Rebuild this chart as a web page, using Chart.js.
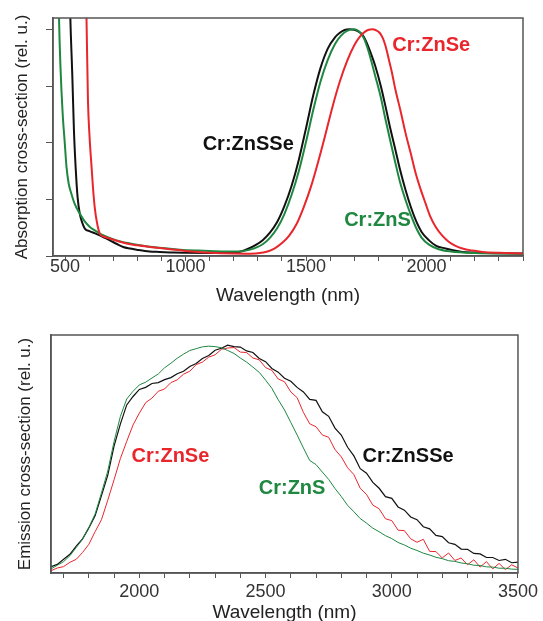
<!DOCTYPE html>
<html>
<head>
<meta charset="utf-8">
<script src="https://cdn.jsdelivr.net/npm/chart.js@4.4.1/dist/chart.umd.min.js"></script>
<style>
  html, body { margin: 0; padding: 0; background: #fff; overflow: hidden; }
  .panel { position: absolute; left: 0; width: 543px; height: 310px; }
  #topPanel { top: 0; }
  #bottomPanel { top: 320px; }
</style>
</head>
<body>
<div class="panel" id="topPanel"><canvas id="absCanvas"></canvas></div>
<div class="panel" id="bottomPanel"><canvas id="emCanvas"></canvas></div>
<script>
// Absorption spectra (top panel), wavelength in nm, values normalised to the peak
const absBlackWl = [515, 522, 530, 537, 544, 552, 561, 572, 582, 603, 625, 644, 665, 686, 715, 741, 770, 797, 850, 893, 950, 1000, 1100, 1200, 1230, 1260, 1290, 1320, 1350, 1380, 1410, 1440, 1470, 1500, 1530, 1560, 1590, 1620, 1640, 1660, 1680, 1700, 1718, 1735, 1750, 1765, 1788, 1810, 1830, 1850, 1871, 1890, 1913, 1935, 1955, 1980, 2010, 2040, 2079, 2110, 2149, 2200, 2300, 2400];
const absBlackVal = [1.4, 1.05, 0.80, 0.55, 0.39, 0.26, 0.187, 0.145, 0.121, 0.109, 0.100, 0.091, 0.080, 0.069, 0.053, 0.040, 0.033, 0.028, 0.020, 0.018, 0.015, 0.014, 0.013, 0.015, 0.020, 0.032, 0.048, 0.07, 0.103, 0.15, 0.22, 0.31, 0.425, 0.565, 0.71, 0.83, 0.915, 0.965, 0.985, 0.997, 1.0, 0.998, 0.99, 0.975, 0.945, 0.905, 0.835, 0.75, 0.658, 0.56, 0.467, 0.38, 0.29, 0.215, 0.158, 0.105, 0.069, 0.045, 0.033, 0.025, 0.018, 0.015, 0.012, 0.011];

const absRedWl = [583, 589, 595, 602, 610, 616, 623, 632, 644, 660, 686, 720, 755, 800, 852, 920, 981, 1050, 1150, 1250, 1300, 1340, 1370, 1400, 1430, 1460, 1490, 1520, 1550, 1580, 1610, 1640, 1670, 1700, 1725, 1745, 1760, 1775, 1790, 1805, 1818, 1830, 1844, 1858, 1871, 1892, 1913, 1935, 1955, 1975, 1996, 2015, 2038, 2065, 2093, 2120, 2149, 2190, 2232, 2300, 2400];
const absRedVal = [1.4, 1.05, 0.688, 0.52, 0.393, 0.30, 0.216, 0.15, 0.099, 0.086, 0.077, 0.065, 0.055, 0.047, 0.040, 0.032, 0.025, 0.018, 0.012, 0.010, 0.012, 0.02, 0.034, 0.057, 0.09, 0.14, 0.215, 0.305, 0.415, 0.535, 0.66, 0.77, 0.86, 0.93, 0.97, 0.99, 0.998, 1.0, 0.996, 0.985, 0.962, 0.925, 0.864, 0.80, 0.732, 0.64, 0.541, 0.45, 0.364, 0.295, 0.231, 0.175, 0.128, 0.09, 0.062, 0.045, 0.033, 0.024, 0.018, 0.014, 0.011];

const absGreenWl = [470, 475, 481, 490, 499, 506, 515, 526, 540, 561, 580, 603, 625, 644, 680, 714, 760, 810, 880, 977, 1050, 1150, 1220, 1260, 1290, 1320, 1350, 1380, 1410, 1440, 1470, 1500, 1530, 1560, 1590, 1620, 1645, 1670, 1700, 1720, 1740, 1760, 1788, 1810, 1830, 1850, 1871, 1890, 1913, 1935, 1955, 1980, 2010, 2050, 2100, 2200, 2400];
const absGreenVal = [1.4, 1.05, 0.835, 0.63, 0.496, 0.393, 0.32, 0.276, 0.23, 0.187, 0.155, 0.128, 0.112, 0.099, 0.082, 0.069, 0.057, 0.047, 0.037, 0.028, 0.024, 0.020, 0.020, 0.026, 0.036, 0.052, 0.08, 0.122, 0.185, 0.27, 0.375, 0.505, 0.645, 0.77, 0.865, 0.935, 0.972, 0.993, 1.0, 0.99, 0.96, 0.90, 0.79, 0.70, 0.60, 0.505, 0.408, 0.325, 0.246, 0.18, 0.128, 0.08, 0.05, 0.03, 0.02, 0.013, 0.01];

// Emission spectra (bottom panel)
const emWl = [1650, 1675, 1700, 1725, 1750, 1775, 1800, 1825, 1850, 1875,
  1900, 1925, 1950, 1975, 2000, 2025, 2050, 2075, 2100, 2125,
  2150, 2175, 2200, 2225, 2250, 2275, 2300, 2325, 2350, 2375,
  2400, 2425, 2450, 2475, 2500, 2525, 2550, 2575, 2600, 2625,
  2650, 2675, 2700, 2725, 2750, 2775, 2800, 2825, 2850, 2875,
  2900, 2925, 2950, 2975, 3000, 3025, 3050, 3075, 3100, 3125,
  3150, 3175, 3200, 3225, 3250, 3275, 3300, 3325, 3350, 3375,
  3400, 3425, 3450, 3475, 3500];
const emBlack = [0.028, 0.038, 0.060, 0.082, 0.118, 0.150, 0.198, 0.252, 0.340, 0.430,
  0.558, 0.655, 0.738, 0.775, 0.806, 0.815, 0.832, 0.836, 0.849, 0.858,
  0.875, 0.886, 0.907, 0.920, 0.942, 0.955, 0.978, 0.987, 1.0, 0.994,
  0.992, 0.975, 0.968, 0.942, 0.928, 0.898, 0.882, 0.855, 0.842, 0.815,
  0.795, 0.762, 0.758, 0.708, 0.688, 0.636, 0.606, 0.552, 0.514, 0.458,
  0.438, 0.398, 0.372, 0.335, 0.328, 0.290, 0.276, 0.246, 0.234, 0.203,
  0.194, 0.165, 0.160, 0.133, 0.126, 0.105, 0.104, 0.086, 0.084, 0.068,
  0.068, 0.055, 0.060, 0.045, 0.048];
const emRed = [0.010, 0.022, 0.028, 0.047, 0.060, 0.090, 0.126, 0.182, 0.234, 0.320,
  0.410, 0.503, 0.578, 0.650, 0.702, 0.748, 0.768, 0.798, 0.808, 0.836,
  0.848, 0.873, 0.886, 0.915, 0.926, 0.948, 0.958, 0.982, 0.988, 0.990,
  0.970, 0.968, 0.944, 0.936, 0.902, 0.890, 0.852, 0.840, 0.795, 0.770,
  0.705, 0.655, 0.642, 0.606, 0.596, 0.542, 0.510, 0.462, 0.432, 0.372,
  0.345, 0.298, 0.282, 0.238, 0.230, 0.188, 0.186, 0.150, 0.135, 0.148,
  0.095, 0.094, 0.066, 0.088, 0.055, 0.066, 0.036, 0.058, 0.026, 0.050,
  0.018, 0.042, 0.015, 0.036, 0.022];
const emGreen = [0.018, 0.034, 0.050, 0.076, 0.112, 0.148, 0.200, 0.260, 0.352, 0.448,
  0.578, 0.688, 0.764, 0.798, 0.826, 0.838, 0.856, 0.874, 0.901, 0.921,
  0.943, 0.961, 0.977, 0.985, 0.993, 0.996, 0.994, 0.989, 0.977, 0.964,
  0.944, 0.926, 0.904, 0.881, 0.847, 0.811, 0.761, 0.716, 0.661, 0.606,
  0.549, 0.494, 0.476, 0.443, 0.411, 0.371, 0.336, 0.297, 0.269, 0.239,
  0.219, 0.197, 0.181, 0.164, 0.151, 0.134, 0.123, 0.109, 0.099, 0.087,
  0.079, 0.069, 0.063, 0.054, 0.051, 0.044, 0.041, 0.034, 0.033, 0.027,
  0.026, 0.021, 0.021, 0.017, 0.016];

const BLACK = '#111111';
const RED = '#e8262c';
const GREEN = '#1e8740';
const AXIS = '#555555';
const FONT = '"Liberation Sans", Arial, Helvetica, sans-serif';

const pts = (xs, ys) => xs.map((x, i) => ({ x: x, y: ys[i] }));

// closed grey box around the plot area
const framePlugin = {
    id: 'frame',
    afterDraw(chart) {
        const a = chart.chartArea, ctx = chart.ctx;
        ctx.save();
        ctx.strokeStyle = AXIS;
        ctx.lineWidth = 1.5;
        ctx.strokeRect(a.left, a.top, a.right - a.left, a.bottom - a.top);
        ctx.restore();
    }
};

// sample names written next to the curves, placed in data units
const curveLabels = {
    id: 'curveLabels',
    afterDatasetsDraw(chart, args, opts) {
        const ctx = chart.ctx, xs = chart.scales.x, ys = chart.scales.y;
        ctx.save();
        ctx.font = 'bold 20px ' + FONT;
        ctx.textAlign = 'left';
        ctx.textBaseline = 'middle';
        (opts.items || []).forEach(it => {
            ctx.fillStyle = it.color;
            ctx.fillText(it.text, xs.getPixelForValue(it.x), ys.getPixelForValue(it.y));
        });
        ctx.restore();
    }
};

function lineSet(label, data, color, width, smooth) {
    return {
        label: label,
        data: data,
        borderColor: color,
        borderWidth: width,
        pointRadius: 0,
        fill: false,
        tension: smooth ? 0.4 : 0,
        cubicInterpolationMode: smooth ? 'monotone' : 'default'
    };
}

function xAxis(min, max, fitHeight, labelPad, titlePad) {
    return {
        type: 'linear',
        min: min,
        max: max,
        afterFit: s => { s.height = fitHeight; },
        border: { display: true, color: AXIS, width: 1.5 },
        grid: { drawOnChartArea: false, drawTicks: true, tickLength: 5, color: AXIS },
        ticks: {
            stepSize: 100,
            includeBounds: false,
            autoSkip: false,
            maxRotation: 0,
            padding: labelPad,
            color: '#333',
            font: { family: FONT, size: 18, lineHeight: 1 },
            callback: v => (v % 500 === 0 ? v : '')
        },
        title: {
            display: true,
            text: 'Wavelength (nm)',
            color: '#222',
            font: { family: FONT, size: 19 },
            padding: { top: 0, bottom: titlePad }
        }
    };
}

function initCharts() {
    // 1. Absorption cross-section
    new Chart(document.getElementById('absCanvas').getContext('2d'), {
        type: 'line',
        data: {
            datasets: [
                lineSet('Cr:ZnSe', pts(absRedWl, absRedVal), RED, 2, true),
                lineSet('Cr:ZnS', pts(absGreenWl, absGreenVal), GREEN, 2, true),
                lineSet('Cr:ZnSSe', pts(absBlackWl, absBlackVal), BLACK, 2, true)
            ]
        },
        options: {
            responsive: true,
            maintainAspectRatio: false,
            animation: false,
            layout: { padding: { top: 18, right: 20, left: 0, bottom: 0 } },
            scales: {
                x: xAxis(450, 2400, 54, -3, 3),
                y: {
                    min: 0,
                    max: 1.05,
                    afterFit: s => { s.width = 53; },
                    border: { display: true, color: AXIS, width: 1.5 },
                    grid: { drawOnChartArea: false, drawTicks: true, tickLength: 7, color: AXIS },
                    ticks: { stepSize: 0.25, includeBounds: false, callback: () => '' },
                    title: {
                        display: true,
                        text: 'Absorption cross-section (rel. u.)',
                        color: '#222',
                        font: { family: FONT, size: 17 },
                        padding: { top: 12, bottom: 0 }
                    }
                }
            },
            plugins: {
                legend: { display: false },
                tooltip: { enabled: false },
                curveLabels: {
                    items: [
                        { text: 'Cr:ZnSe', color: RED, x: 1858, y: 0.93 },
                        { text: 'Cr:ZnSSe', color: BLACK, x: 1071, y: 0.493 },
                        { text: 'Cr:ZnS', color: GREEN, x: 1658, y: 0.155 }
                    ]
                }
            }
        },
        plugins: [framePlugin, curveLabels]
    });

    // 2. Emission cross-section
    new Chart(document.getElementById('emCanvas').getContext('2d'), {
        type: 'line',
        data: {
            datasets: [
                lineSet('Cr:ZnS', pts(emWl, emGreen), GREEN, 1, false),
                lineSet('Cr:ZnSe', pts(emWl, emRed), RED, 1, false),
                lineSet('Cr:ZnSSe', pts(emWl, emBlack), BLACK, 1.2, false)
            ]
        },
        options: {
            responsive: true,
            maintainAspectRatio: false,
            animation: false,
            layout: { padding: { top: 15, right: 24, left: 0, bottom: 0 } },
            scales: {
                x: xAxis(1650, 3500, 57, 5, 5.6),
                y: {
                    min: 0,
                    max: 1.045,
                    afterFit: s => { s.width = 51; },
                    border: { display: true, color: AXIS, width: 1.5 },
                    grid: { drawOnChartArea: false, drawTicks: false },
                    ticks: { display: false },
                    title: {
                        display: true,
                        text: 'Emission cross-section (rel. u.)',
                        color: '#222',
                        font: { family: FONT, size: 17 },
                        padding: { top: 15, bottom: 0 }
                    }
                }
            },
            plugins: {
                legend: { display: false },
                tooltip: { enabled: false },
                curveLabels: {
                    items: [
                        { text: 'Cr:ZnSe', color: RED, x: 1969, y: 0.51 },
                        { text: 'Cr:ZnSSe', color: BLACK, x: 2884, y: 0.51 },
                        { text: 'Cr:ZnS', color: GREEN, x: 2473, y: 0.372 }
                    ]
                }
            }
        },
        plugins: [framePlugin, curveLabels]
    });
}

document.addEventListener('DOMContentLoaded', initCharts);
</script>
</body>
</html>
